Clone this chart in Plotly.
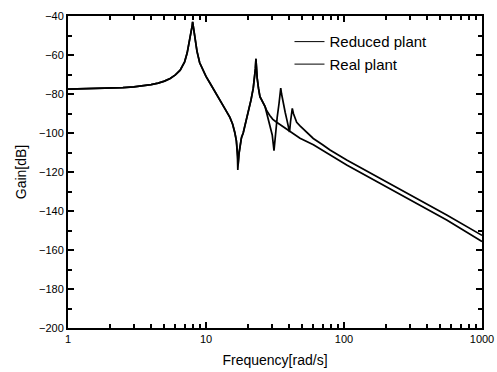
import plotly.graph_objects as go

# Common low-frequency part (both plants overlap), frequency in rad/s, gain in dB
common_f = [1, 1.5, 2, 2.5, 3, 3.5, 4, 4.5, 5, 5.5, 6, 6.5, 7, 7.3, 7.6, 7.8, 7.95, 8.0,
            8.08, 8.2, 8.4, 8.6, 9.0, 9.5, 10, 10.7, 11.5, 12.6, 13.7, 14.9, 15.6, 16.2, 16.6]
common_g = [-77.5, -77.3, -77.0, -76.7, -76.3, -75.8, -75.2, -74.4, -73.4, -72.0, -70.2, -67.8,
            -63.5, -59.0, -53.0, -48.5, -44.8, -43.0,
            -45, -50, -55, -58, -64, -68, -71, -74.5, -78.5, -83, -87.5, -92, -95.5, -100, -104]

# Real plant (all modes)
real_f = [16.9, 17.0, 17.3, 17.6, 18.0, 18.6, 19.4, 20.3, 21.2, 22.0, 22.5, 22.8, 23.0,
          23.2, 23.5, 24.0, 24.6, 26.8, 27.5, 29.0, 30.2, 31.1, 31.8, 32.8, 33.8, 34.4,
          34.8, 35.3, 36.3, 37.5, 38.5, 39.5, 40.3, 41.0, 41.7, 42.2, 43.0, 45.4, 48.0,
          53.7, 59.9, 70.0, 79.2, 104.6, 182, 318, 555, 1000]
real_g = [-112, -119, -111, -106, -103, -100, -95, -89, -83, -77, -72, -67, -62,
          -67, -72, -77, -81.4, -86.5, -89.5, -95, -101, -109, -101, -92, -85, -80,
          -77, -80, -85, -89.5, -93, -96.5, -99.5, -94, -90, -87.4, -90, -94.5, -96.3,
          -99.6, -102.8, -106.0, -108.7, -113.8, -123.2, -132.6, -142.1, -152.5]

# Reduced plant (fewer modes)
red_f = [16.9, 17.1, 17.4, 17.7, 18.1, 18.6, 19.4, 20.3, 21.2, 22.0, 22.5, 22.8, 23.0,
         23.2, 23.5, 24.0, 24.6, 26.8, 27.5, 29.0, 30.5, 32.5, 35.0, 37.5, 40.6, 48.0,
         60.0, 79.2, 104.6, 182, 318, 555, 1000]
red_g = [-110, -116, -110, -105, -102, -100, -95, -89, -83, -77, -72, -67, -62,
         -67, -72, -77, -81.4, -86.5, -88.5, -91, -93, -94.5, -96, -97.5, -99.3, -102.7,
         -106, -111, -116.4, -125.8, -135.2, -144.6, -155.7]

series_names = ["Reduced plant", "Real plant"]

x_tickvals = [1, 10, 100, 1000]
x_ticktext = ["1", "10", "100", "1000"]
x_minor = [m * d for d in (1, 10, 100) for m in range(2, 10)]
y_tickvals = list(range(-200, -39, 20))

fig = go.Figure()
fig.add_trace(go.Scatter(x=common_f + red_f, y=common_g + red_g, mode="lines",
                         name=series_names[0], showlegend=False,
                         line=dict(color="black", width=1.7)))
fig.add_trace(go.Scatter(x=common_f + real_f, y=common_g + real_g, mode="lines",
                         name=series_names[1], showlegend=False,
                         line=dict(color="black", width=1.7)))
# legend entries (thin sample lines as in the reference)
for nm in series_names:
    fig.add_trace(go.Scatter(x=[None], y=[None], mode="lines", name=nm,
                             line=dict(color="black", width=1)))

FONT = "Liberation Sans, Arial, sans-serif"
tick_font = dict(family=FONT, size=11, color="black")
title_font = dict(family=FONT, size=14, color="black")

fig.update_layout(
    width=497, height=372,
    margin=dict(l=68, r=15, t=16, b=44),
    paper_bgcolor="white", plot_bgcolor="white",
    font=dict(family=FONT, color="black"),
    showlegend=True,
    legend=dict(x=0.535, y=0.97, xanchor="left", yanchor="top",
                bgcolor="rgba(0,0,0,0)", font=dict(family=FONT, size=15, color="black"),
                itemwidth=30, tracegroupgap=0),
    xaxis=dict(type="log", range=[0, 3], tickmode="array", tickvals=x_tickvals,
               ticktext=x_ticktext, ticks="inside", ticklen=6, tickwidth=2,
               tickcolor="black", showline=True, linecolor="black", linewidth=2,
               mirror="ticks", showgrid=False, zeroline=False, automargin=False,
               minor=dict(tickmode="array", tickvals=x_minor, ticks="inside",
                          ticklen=4, tickwidth=2, tickcolor="black", showgrid=False),
               title=dict(text="Frequency[rad/s]", font=title_font, standoff=11),
               tickfont=tick_font),
    yaxis=dict(range=[-200, -40], tickmode="array", tickvals=y_tickvals,
               ticks="inside", ticklen=6, tickwidth=2, tickcolor="black",
               showline=True, linecolor="black", linewidth=2, mirror="ticks",
               showgrid=False, zeroline=False, automargin=False,
               minor=dict(dtick=10, ticks="inside", ticklen=4, tickwidth=2,
                          tickcolor="black", showgrid=False),
               title=dict(text="Gain[dB]", font=title_font, standoff=9),
               tickfont=tick_font),
)

fig.write_html("out.html")
